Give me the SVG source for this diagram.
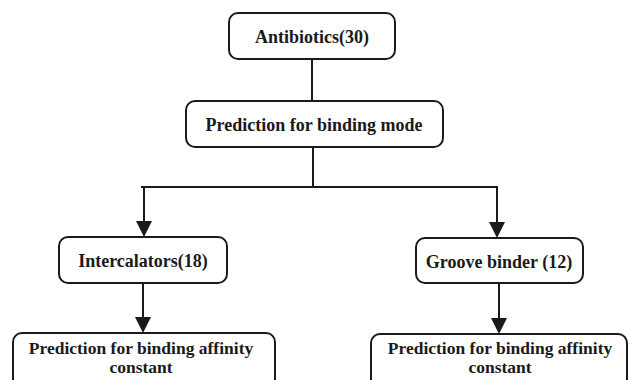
<svg xmlns="http://www.w3.org/2000/svg" width="628" height="380" viewBox="0 0 628 380">
<style>
.box{fill:#fff;stroke:#1a1a1a;stroke-width:2}
.t{font-family:"Liberation Serif","Times New Roman",serif;font-weight:bold;font-size:18px;fill:#1a1a1a;text-anchor:middle}
.s{font-size:17.5px}
.c{stroke:#1a1a1a;stroke-width:2;fill:none}
.ah{fill:#1a1a1a}
</style>
<rect width="628" height="380" fill="#fff"/>
<g id="connectors">
<line class="c" x1="312" y1="59" x2="312" y2="101"/>
<line class="c" x1="313" y1="147" x2="313" y2="187"/>
<line class="c" x1="141" y1="187" x2="498" y2="187"/>
<path class="c" d="M144,187 V222"/>
<path class="ah" d="M136,221 L152,221 L144,237 Z"/>
<path class="c" d="M497,187 V222"/>
<path class="ah" d="M489,222 L505,222 L497,238 Z"/>
<path class="c" d="M143,283 V318"/>
<path class="ah" d="M135,317 L151,317 L143,333 Z"/>
<path class="c" d="M499,283 V319"/>
<path class="ah" d="M491,318 L507,318 L499,334 Z"/>
</g>
<g id="antibiotics">
<rect class="box" x="229" y="13" width="166" height="46" rx="9"/>
<text class="t" x="312" y="43">Antibiotics(30)</text>
</g>
<g id="binding-mode">
<rect class="box" x="186" y="101" width="257" height="46" rx="9"/>
<text class="t" x="314" y="131">Prediction for binding mode</text>
</g>
<g id="intercalators">
<rect class="box" x="59" y="237" width="168" height="46" rx="9"/>
<text class="t" x="143" y="267">Intercalators(18)</text>
</g>
<g id="groove-binder">
<rect class="box" x="416" y="238" width="167" height="45" rx="9"/>
<text class="t" x="499" y="268">Groove binder (12)</text>
</g>
<g id="affinity-left">
<rect class="box" x="13" y="333" width="262" height="56" rx="9"/>
<text class="t s" x="141" y="353.5">Prediction for binding affinity</text>
<text class="t s" x="141" y="373">constant</text>
</g>
<g id="affinity-right">
<rect class="box" x="371" y="334" width="256" height="56" rx="9"/>
<text class="t s" x="500" y="353.5">Prediction for binding affinity</text>
<text class="t s" x="500" y="373">constant</text>
</g>
</svg>
